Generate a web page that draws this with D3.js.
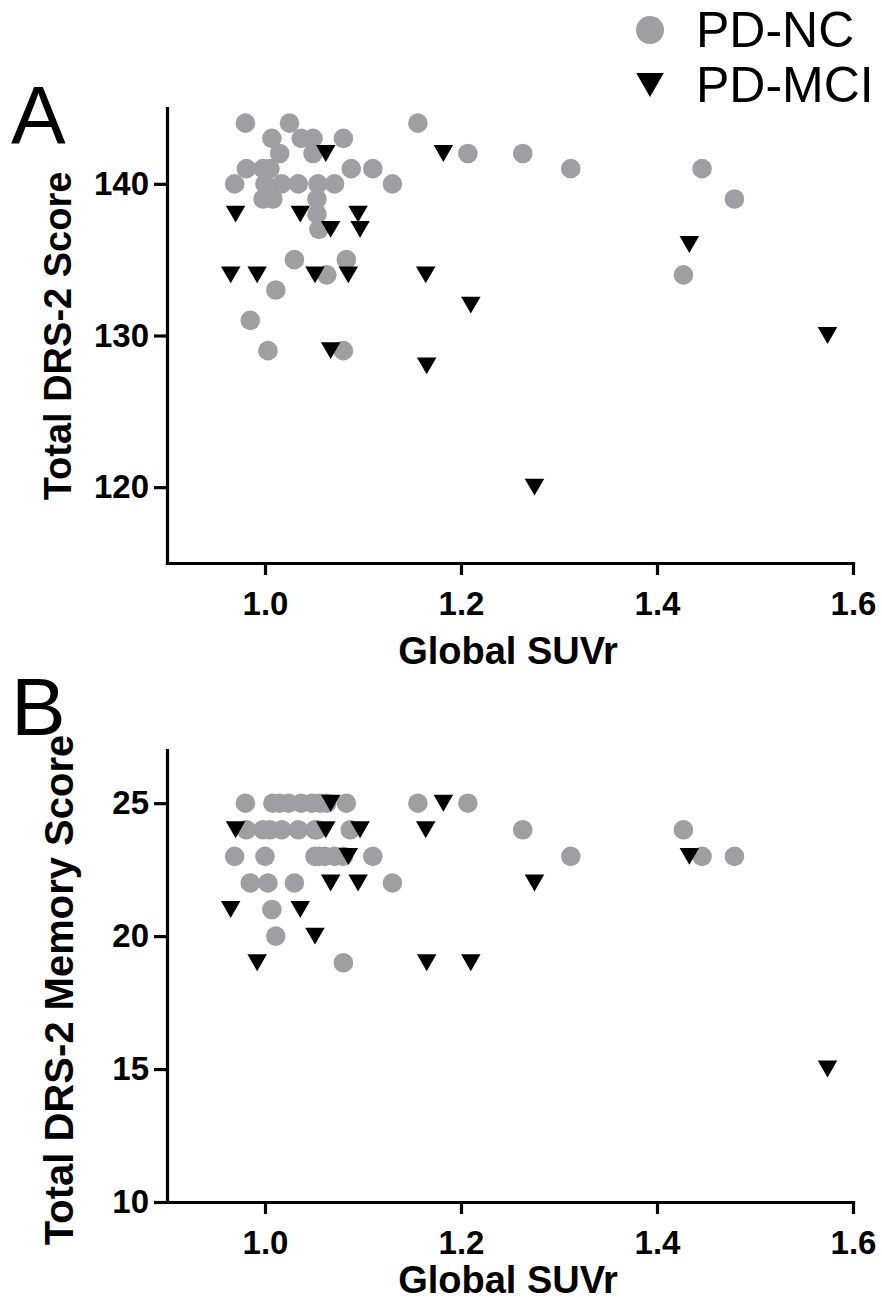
<!DOCTYPE html>
<html>
<head>
<meta charset="utf-8">
<script src="https://cdn.jsdelivr.net/npm/d3@7"></script>
<style>
  body { margin: 0; background: #fff; }
  text { font-family: "Liberation Sans", Arial, sans-serif; }
</style>
</head>
<body>
<div id="chart"></div>
<script>
// ---- data ----
var seriesNames = ["PD-NC", "PD-MCI"];
var suvrTicks = [1.0, 1.2, 1.4, 1.6];
var drsTicks = [120, 130, 140];
var memTicks = [10, 15, 20, 25];

// panel A, PD-NC
var ncSuvrA = [0.980, 1.025, 1.156,
  1.007, 1.037, 1.049, 1.080,
  1.015, 1.049, 1.207, 1.263,
  0.981, 0.998, 1.005, 1.088, 1.110, 1.312, 1.446,
  0.969, 1.000, 1.017, 1.034, 1.054, 1.071, 1.130,
  0.998, 1.008, 1.053, 1.479,
  1.053, 1.055, 1.030, 1.083, 1.063, 1.427,
  1.011, 0.985, 1.003, 1.080];
var ncDrs = [144, 144, 144,
  143, 143, 143, 143,
  142, 142, 142, 142,
  141, 141, 141, 141, 141, 141, 141,
  140, 140, 140, 140, 140, 140, 140,
  139, 139, 139, 139,
  138, 137, 135, 135, 134, 134,
  133, 131, 129, 129];

// panel B, PD-NC
var ncSuvrB = [0.980, 1.008, 1.015, 1.024, 1.037, 1.048, 1.056, 1.063, 1.083, 1.156, 1.207,
  0.981, 0.998, 1.005, 1.017, 1.034, 1.051, 1.053, 1.087, 1.263, 1.427,
  0.969, 1.000, 1.051, 1.055, 1.061, 1.071, 1.080, 1.110, 1.312, 1.446, 1.479,
  0.985, 1.003, 1.030, 1.130,
  1.007, 1.011, 1.080];
var ncMem = [25, 25, 25, 25, 25, 25, 25, 25, 25, 25, 25,
  24, 24, 24, 24, 24, 24, 24, 24, 24, 24,
  23, 23, 23, 23, 23, 23, 23, 23, 23, 23, 23,
  22, 22, 22, 22,
  21, 20, 19];

// PD-MCI (same subjects in both panels)
var mciSuvr = [0.965, 0.970, 0.992, 1.036, 1.051, 1.062, 1.067, 1.067, 1.085,
  1.095, 1.097, 1.164, 1.165, 1.182, 1.210, 1.275, 1.433, 1.574];
var mciDrs = [134, 138, 134, 138, 134, 142, 137, 129, 134,
  138, 137, 134, 128, 142, 132, 120, 136, 130];
var mciMem = [21, 24, 19, 21, 20, 24, 25, 22, 23,
  22, 24, 24, 19, 25, 19, 22, 23, 15];

var svgWidth = 882;
var svgHeight = 1306;
var grey = "#9e9ea3";

var svg = d3.select("#chart")
  .append("svg")
  .attr("width", svgWidth)
  .attr("height", svgHeight);

// downward triangle centred on its bounding box
var triangleDown = {
  draw: function(context, size) {
    var s = Math.sqrt(size * 4 / Math.sqrt(3));
    var h = s * Math.sqrt(3) / 2;
    context.moveTo(-s / 2, -h / 2);
    context.lineTo(s / 2, -h / 2);
    context.lineTo(0, h / 2);
    context.closePath();
  }
};

var xScale = d3.scaleLinear().domain([0.9, 1.6]).range([167, 853]);

function drawPanel(p) {
  var yScale = d3.scaleLinear().domain(p.domain).range(p.range);
  var g = svg.append("g");

  var bottomAxis = d3.axisBottom(xScale)
    .tickValues(suvrTicks)
    .tickFormat(d3.format(".1f"))
    .tickSize(12)
    .tickSizeOuter(0)
    .tickPadding(17);
  var leftAxis = d3.axisLeft(yScale)
    .tickValues(p.ticks)
    .tickSize(13)
    .tickSizeOuter(0)
    .tickPadding(5);

  var xg = g.append("g")
    .attr("transform", `translate(0, ${p.range[0]})`)
    .call(bottomAxis);
  var yg = g.append("g")
    .attr("transform", `translate(${xScale.range()[0]}, 0)`)
    .call(leftAxis);

  [xg, yg].forEach(function(ax) {
    ax.select(".domain").attr("stroke-width", 3.2).attr("stroke", "#000").attr("stroke-linecap", "square");
    ax.selectAll(".tick line").attr("stroke-width", 3.2).attr("stroke", "#000");
    ax.selectAll(".tick text")
      .attr("fill", "#000")
      .attr("font-size", "33px")
      .attr("font-weight", "bold")
      .attr("font-family", "'Liberation Sans', Arial, sans-serif");
  });

  // circles
  g.append("g").selectAll("circle")
    .data(p.ncX.map(function(x, i) { return [x, p.ncY[i]]; }))
    .enter()
    .append("circle")
    .attr("cx", d => xScale(d[0]))
    .attr("cy", d => yScale(d[1]))
    .attr("r", 9.8)
    .attr("fill", grey);

  // triangles
  g.append("g").selectAll("path")
    .data(mciSuvr.map(function(x, i) { return [x, p.mciY[i]]; }))
    .enter()
    .append("path")
    .attr("d", d3.symbol().type(triangleDown).size(165))
    .attr("transform", d => `translate(${xScale(d[0])}, ${yScale(d[1])})`)
    .attr("fill", "#000");

  // axis titles
  g.append("text")
    .attr("x", 508)
    .attr("y", p.xTitleY)
    .attr("text-anchor", "middle")
    .attr("font-size", "38px")
    .attr("font-weight", "bold")
    .text("Global SUVr");

  g.append("text")
    .attr("transform", `translate(${p.titleX}, ${p.titleY}) rotate(-90)`)
    .attr("text-anchor", "middle")
    .attr("font-size", p.titleSize)
    .attr("font-weight", "bold")
    .text(p.yTitle);

  // panel letter
  g.append("text")
    .attr("x", 11)
    .attr("y", p.letterY)
    .attr("font-size", "82px")
    .text(p.letter);
}

drawPanel({
  domain: [115, 145], range: [563, 108], ticks: drsTicks,
  ncX: ncSuvrA, ncY: ncDrs, mciY: mciDrs, xTitleY: 664,
  yTitle: "Total DRS-2 Score", titleX: 71, titleY: 336, titleSize: "38px",
  letter: "A", letterY: 143
});

drawPanel({
  domain: [10, 27], range: [1202, 750], ticks: memTicks,
  ncX: ncSuvrB, ncY: ncMem, mciY: mciMem, xTitleY: 1293,
  yTitle: "Total DRS-2 Memory Score", titleX: 73, titleY: 990, titleSize: "40px",
  letter: "B", letterY: 735
});

// legend
var legend = svg.append("g").attr("transform", "translate(650, 0)");
legend.append("circle").attr("cx", 0).attr("cy", 30).attr("r", 14).attr("fill", grey);
legend.append("path")
  .attr("d", d3.symbol().type(triangleDown).size(330))
  .attr("transform", "translate(0, 85)")
  .attr("fill", "#000");
legend.selectAll("text.lab")
  .data(seriesNames)
  .enter()
  .append("text")
  .attr("class", "lab")
  .attr("x", 46)
  .attr("y", (d, i) => 47 + i * 55)
  .attr("font-size", "50px")
  .text(d => d);
</script>
</body>
</html>
